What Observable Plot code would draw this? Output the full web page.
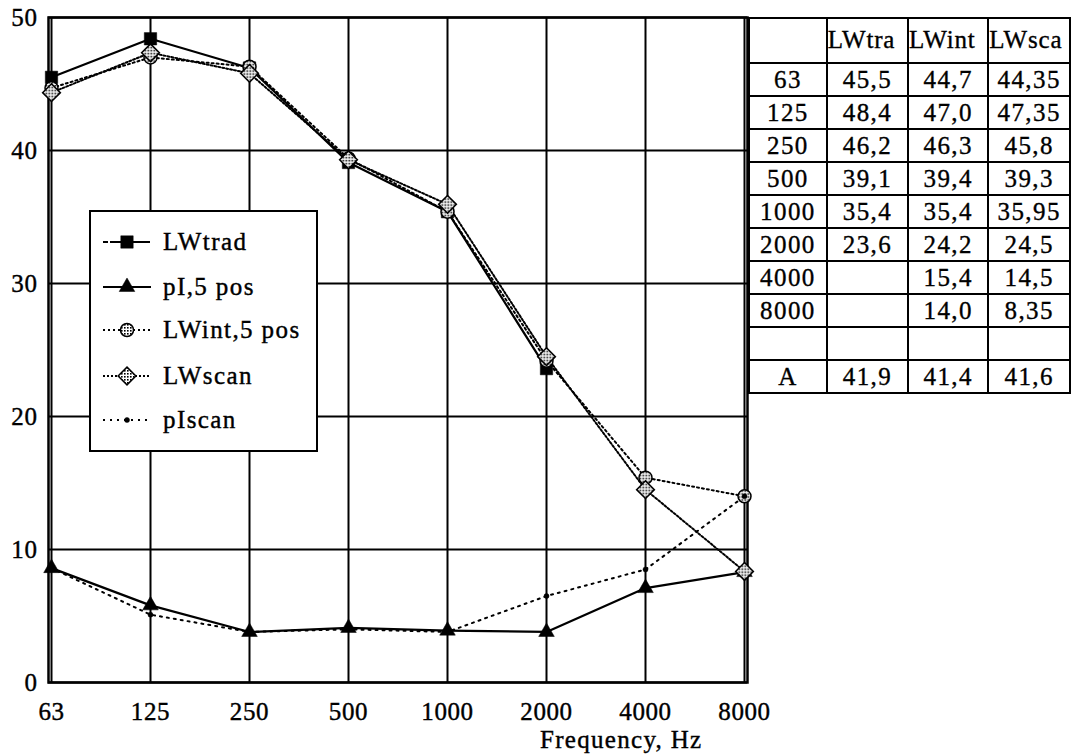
<!DOCTYPE html>
<html>
<head>
<meta charset="utf-8">
<script src="https://cdn.jsdelivr.net/npm/d3@7"></script>
<script src="https://cdn.jsdelivr.net/npm/@observablehq/plot@0.6"></script>
<style>
  body { margin: 0; background: #fff; font-family: "Liberation Serif", "Times New Roman", serif; }
  #wrap { position: relative; width: 1071px; height: 755px; overflow: hidden; }
  #chart { position: absolute; left: 0; top: 0; }
  #chart text { letter-spacing: 0.6px; stroke: #000; stroke-width: 0.4px; }
  #xlabel { position: absolute; left: 540px; top: 726px; font-size: 25px; letter-spacing: 1.3px; color: #000; -webkit-text-stroke: 0.4px #000; }
  #legend { position: absolute; left: 89px; top: 210px; width: 225px; height: 238px; background: #fff; border: 2px solid #000; }
  #legend .row { position: absolute; left: 0; height: 30px; display: flex; align-items: center; font-size: 25px; letter-spacing: 1.4px; white-space: nowrap; -webkit-text-stroke: 0.4px #000; }
  #legend svg { margin-left: 10px; margin-right: 10px; }
  #tbl { position: absolute; left: 748px; top: 17px; border-collapse: collapse; font-size: 25px; letter-spacing: 1.4px; -webkit-text-stroke: 0.35px #000; }
  #tbl td { border: 2px solid #000; padding: 0; text-align: center; height: 31px; line-height: 1; white-space: nowrap; overflow: hidden; }
  #tbl tr:first-child td { height: 35px; text-align: left; vertical-align: top; padding-top: 8px; letter-spacing: 0.8px; }
  #patterns { position: absolute; width: 0; height: 0; }
</style>
</head>
<body>
<div id="wrap">
  <svg id="patterns" width="0" height="0">
    <defs>
      <pattern id="hatch" width="3" height="3" patternUnits="userSpaceOnUse">
        <rect width="3" height="3" fill="#fff"/>
        <rect width="1.6" height="1.6" fill="#000"/>
      </pattern>
    </defs>
  </svg>
  <div id="chart"></div>
  <div id="legend"></div>
  <div id="xlabel">Frequency, Hz</div>
</div>
<script>
// ---- data ----
const freqs = ["63", "125", "250", "500", "1000", "2000", "4000", "8000"];
const lwTrad = [45.5, 48.4, 46.2, 39.1, 35.4, 23.6, null, null];
const lwInt = [44.7, 47.0, 46.3, 39.4, 35.4, 24.2, 15.4, 14.0];
const lwScan = [44.35, 47.35, 45.8, 39.3, 35.95, 24.5, 14.5, 8.35];
const pI5 = [8.6, 5.8, 3.8, 4.1, 3.9, 3.8, 7.1, 8.3];
const pIscan = [8.6, 5.1, 3.8, 4.0, 3.8, 6.5, 8.5, 14.0];
const tableHeaders = ["LWtra", "LWint", "LWsca"];
const aWeighted = ["A", 41.9, 41.4, 41.6];
const yTicks = [0, 10, 20, 30, 40, 50];
const seriesNames = ["LWtrad", "pI,5 pos", "LWint,5 pos", "LWscan", "pIscan"];

// ---- build ----
const toRows = (vals) => freqs.map((f, i) => ({f, v: vals[i]})).filter(d => d.v != null);

const styles = [
  {name: seriesNames[0], vals: lwTrad, dash: null, sym: "square", r: 7, fill: "#000", sw: 2.2},
  {name: seriesNames[1], vals: pI5, dash: null, sym: "triangle", r: 5.8, fill: "#000", sw: 2.2},
  {name: seriesNames[2], vals: lwInt, dash: "2,3", sym: "circle", r: 6.5, fill: "url(#hatch)", sw: 2},
  {name: seriesNames[3], vals: lwScan, dash: "2,2", sym: "diamond2", r: 8, fill: "url(#hatch)", sw: 2},
  {name: seriesNames[4], vals: pIscan, dash: "2,5", sym: "circle", r: 2.5, fill: "#000", sw: 2}
];

const marks = [
  Plot.ruleX(freqs, {stroke: "#000", strokeWidth: 2, strokeOpacity: 1}),
  Plot.ruleY(yTicks, {stroke: "#000", strokeWidth: 2, strokeOpacity: 1}),
  Plot.frame({stroke: "#000", strokeWidth: 2.5})
];
for (const s of styles) {
  marks.push(Plot.line(toRows(s.vals), {x: "f", y: "v", stroke: "#000", strokeWidth: s.sw, strokeDasharray: s.dash || undefined}));
}
for (const s of styles) {
  marks.push(Plot.dot(toRows(s.vals), {x: "f", y: "v", symbol: () => s.sym, r: s.r, fill: s.fill, stroke: "#000", strokeWidth: s.fill === "#000" ? 0.5 : 1.5}));
}
marks.push(Plot.axisX({tickSize: 0, tickPadding: 20, fontSize: 25, label: null}));
marks.push(Plot.axisY({ticks: yTicks, tickSize: 0, tickPadding: 11, fontSize: 25, label: null}));

const chart = Plot.plot({
  width: 790,
  height: 755,
  marginLeft: 48,
  marginRight: 43,
  marginTop: 17,
  marginBottom: 73,
  style: {fontFamily: "Liberation Serif, serif", color: "#000", background: "transparent", overflow: "visible"},
  x: {type: "point", domain: freqs, padding: 0},
  y: {domain: [0, 50]},
  symbol: {type: "identity"},
  marks
});
document.getElementById("chart").appendChild(chart);

// ---- legend ----
const legend = document.getElementById("legend");
const rowTops = [15, 60, 103, 149, 193];
styles.forEach((s, i) => {
  const row = document.createElement("div");
  row.className = "row";
  row.style.top = rowTops[i] + "px";
  const svg = d3.create("svg").attr("width", 52).attr("height", 30);
  svg.append("line").attr("x1", 2).attr("x2", 50).attr("y1", 15).attr("y2", 15)
    .attr("stroke", "#000").attr("stroke-width", 2)
    .attr("stroke-dasharray", s.dash || (i === 0 ? "5,2,40" : null));
  const symMap = {square: d3.symbolSquare, triangle: d3.symbolTriangle, circle: d3.symbolCircle, diamond2: d3.symbolDiamond2};
  svg.append("path").attr("transform", "translate(26,15)")
    .attr("d", d3.symbol(symMap[s.sym], s.r * s.r * Math.PI)())
    .attr("fill", s.fill).attr("stroke", "#000").attr("stroke-width", s.fill === "#000" ? 0.5 : 1.5);
  row.appendChild(svg.node());
  const t = document.createElement("span");
  t.textContent = s.name;
  row.appendChild(t);
  legend.appendChild(row);
});

// ---- table ----
const fmt = v => v == null ? "" : (typeof v === "string" ? v : (Math.round(v * 10) === v * 10 ? v.toFixed(1) : v.toFixed(2)).replace(".", ","));
const tbl = document.createElement("table");
tbl.id = "tbl";
const colW = [77, 80, 79, 80];
const addRow = (cells) => {
  const tr = document.createElement("tr");
  cells.forEach((c, j) => {
    const td = document.createElement("td");
    td.textContent = fmt(c);
    td.style.width = colW[j] + "px";
    td.style.maxWidth = colW[j] + "px";
    tr.appendChild(td);
  });
  tbl.appendChild(tr);
};
addRow(["", ...tableHeaders]);
freqs.forEach((f, i) => addRow([f, lwTrad[i], lwInt[i], lwScan[i]]));
addRow(["", "", "", ""]);
addRow(aWeighted);
document.getElementById("wrap").appendChild(tbl);
</script>
</body>
</html>
